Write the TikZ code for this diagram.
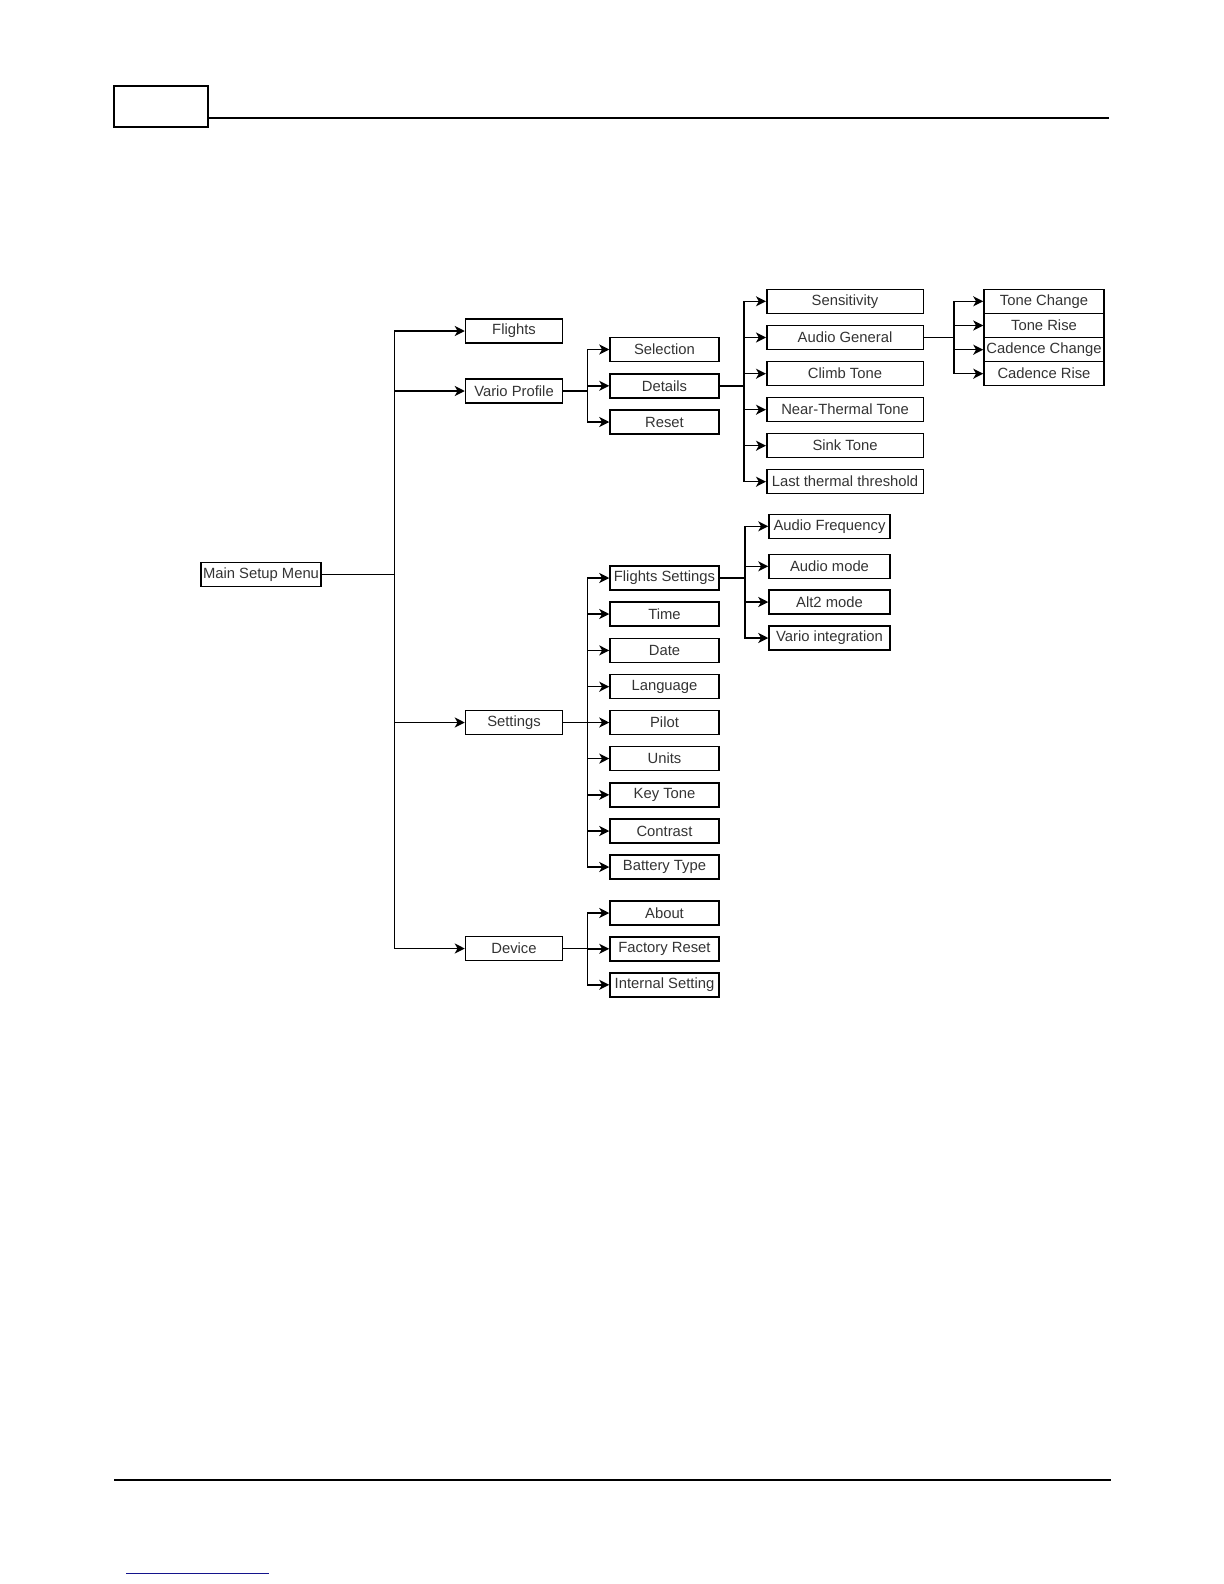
\documentclass[tikz,border=0pt]{standalone}
\usepackage{fontspec}
\setmainfont{Liberation Sans}
\usetikzlibrary{arrows.meta}

\tikzset{every picture/.style={line width=0.75pt}}
\tikzset{
  menubox/.style={draw, inner sep=0pt, minimum height=12pt, text=black!80,
    font=\fontsize{7.4}{8}\selectfont},
  link/.style={-{Stealth[length=5pt,width=5pt,inset=1.4pt]}},
}

\begin{document}
\begin{tikzpicture}[x=0.5pt,y=0.5pt,yscale=-1,xscale=1]
\path[use as bounding box] (0,0) rectangle (1224,1584);

%Shape: Rectangle [header tab]
\draw   (114,86) rectangle (208,127) ;
%Straight Lines [header rule]
\draw    (208,118) -- (1109,118) ;
%Straight Lines [footer rule]
\draw    (114,1480) -- (1111,1480) ;
%Straight Lines [footer link]
\draw [color={rgb, 255:red, 20; green, 20; blue, 140 }]   (126,1573.5) -- (269,1573.5) ;

% Root
\node [menubox, minimum width=60pt] (main) at (261,574.5) {Main Setup Menu};

% Level 1
\node [menubox, minimum width=48.5pt] (flights) at (514,331) {Flights};
\node [menubox, minimum width=48.5pt] (vario) at (514,391) {Vario Profile};
\node [menubox, minimum width=48.5pt] (settings) at (514,722.5) {Settings};
\node [menubox, minimum width=48.5pt] (device) at (514,948.5) {Device};

% Level 2
\node [menubox, minimum width=54.5pt] (selection) at (664.5,349.5) {Selection};
\node [menubox, minimum width=54.5pt] (details) at (664.5,385.8) {Details};
\node [menubox, minimum width=54.5pt] (reset) at (664.5,422) {Reset};
\node [menubox, minimum width=54.5pt] (fsettings) at (664.5,578) {Flights Settings};
\node [menubox, minimum width=54.5pt] (time) at (664.5,614) {Time};
\node [menubox, minimum width=54.5pt] (date) at (664.5,650.4) {Date};
\node [menubox, minimum width=54.5pt] (language) at (664.5,686.7) {Language};
\node [menubox, minimum width=54.5pt] (pilot) at (664.5,722.5) {Pilot};
\node [menubox, minimum width=54.5pt] (units) at (664.5,758.6) {Units};
\node [menubox, minimum width=54.5pt] (keytone) at (664.5,794.8) {Key Tone};
\node [menubox, minimum width=54.5pt] (contrast) at (664.5,831) {Contrast};
\node [menubox, minimum width=54.5pt] (battery) at (664.5,867) {Battery Type};
\node [menubox, minimum width=54.5pt] (about) at (664.5,913) {About};
\node [menubox, minimum width=54.5pt] (freset) at (664.5,948.8) {Factory Reset};
\node [menubox, minimum width=54.5pt] (internal) at (664.5,984.8) {Internal Setting};

% Level 3 (details)
\node [menubox, minimum width=78.25pt] (sens) at (845,301.3) {Sensitivity};
\node [menubox, minimum width=78.25pt] (audiogen) at (845,337.5) {Audio General};
\node [menubox, minimum width=78.25pt] (climb) at (845,373.7) {Climb Tone};
\node [menubox, minimum width=78.25pt] (nearth) at (845,409.7) {Near-Thermal Tone};
\node [menubox, minimum width=78.25pt] (sink) at (845,445.7) {Sink Tone};
\node [menubox, minimum width=78.25pt] (lastth) at (845,481.7) {Last thermal threshold};

% Level 3 (flights settings)
\node [menubox, minimum width=60.5pt] (audiofreq) at (829.5,526.3) {Audio Frequency};
\node [menubox, minimum width=60.5pt] (audiomode) at (829.5,566.3) {Audio mode};
\node [menubox, minimum width=60.5pt] (alttwo) at (829.5,602) {Alt2 mode};
\node [menubox, minimum width=60.5pt] (varioint) at (829.5,638) {Vario integration};

% Level 4 (audio general)
\node [menubox, minimum width=60pt] (tonechange) at (1044,301.3) {Tone Change};
\node [menubox, minimum width=60pt] (tonerise) at (1044,325.5) {Tone Rise};
\node [menubox, minimum width=60pt] (cadchange) at (1044,349.7) {Cadence Change};
\node [menubox, minimum width=60pt] (cadrise) at (1044,373.7) {Cadence Rise};

%Connectors
\draw [link] (main.east) -- ++(72.5,0) |- (flights.west) ;
\draw [link] (main.east) -- ++(72.5,0) |- (vario.west) ;
\draw [link] (main.east) -- ++(72.5,0) |- (settings.west) ;
\draw [link] (main.east) -- ++(72.5,0) |- (device.west) ;

\draw [link] (vario.east) -- ++(24,0) |- (selection.west) ;
\draw [link] (vario.east) -- ++(24,0) |- (details.west) ;
\draw [link] (vario.east) -- ++(24,0) |- (reset.west) ;

\draw [link] (settings.east) -- ++(24,0) |- (fsettings.west) ;
\draw [link] (settings.east) -- ++(24,0) |- (time.west) ;
\draw [link] (settings.east) -- ++(24,0) |- (date.west) ;
\draw [link] (settings.east) -- ++(24,0) |- (language.west) ;
\draw [link] (settings.east) -- ++(24,0) |- (pilot.west) ;
\draw [link] (settings.east) -- ++(24,0) |- (units.west) ;
\draw [link] (settings.east) -- ++(24,0) |- (keytone.west) ;
\draw [link] (settings.east) -- ++(24,0) |- (contrast.west) ;
\draw [link] (settings.east) -- ++(24,0) |- (battery.west) ;

\draw [link] (device.east) -- ++(24,0) |- (about.west) ;
\draw [link] (device.east) -- ++(24,0) |- (freset.west) ;
\draw [link] (device.east) -- ++(24,0) |- (internal.west) ;

\draw [link] (details.east) -- ++(24,0) |- (sens.west) ;
\draw [link] (details.east) -- ++(24,0) |- (audiogen.west) ;
\draw [link] (details.east) -- ++(24,0) |- (climb.west) ;
\draw [link] (details.east) -- ++(24,0) |- (nearth.west) ;
\draw [link] (details.east) -- ++(24,0) |- (sink.west) ;
\draw [link] (details.east) -- ++(24,0) |- (lastth.west) ;

\draw [link] (fsettings.east) -- ++(25,0) |- (audiofreq.west) ;
\draw [link] (fsettings.east) -- ++(25,0) |- (audiomode.west) ;
\draw [link] (fsettings.east) -- ++(25,0) |- (alttwo.west) ;
\draw [link] (fsettings.east) -- ++(25,0) |- (varioint.west) ;

\draw [link] (audiogen.east) -- ++(30,0) |- (tonechange.west) ;
\draw [link] (audiogen.east) -- ++(30,0) |- (tonerise.west) ;
\draw [link] (audiogen.east) -- ++(30,0) |- (cadchange.west) ;
\draw [link] (audiogen.east) -- ++(30,0) |- (cadrise.west) ;

\end{tikzpicture}
\end{document}
